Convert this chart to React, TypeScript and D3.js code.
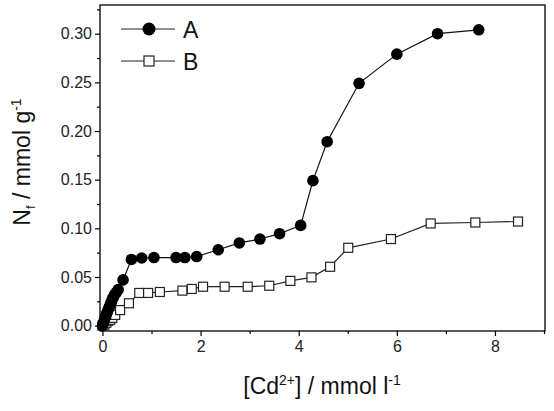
import * as d3 from 'd3';
import React, { useEffect, useRef } from 'react';

// Series A (filled circles): [Cd2+] in mmol/l, uptake in mmol/g
const concA = [0, 0.02, 0.04, 0.06, 0.08, 0.1, 0.12, 0.14, 0.16, 0.18, 0.2, 0.22, 0.25, 0.28, 0.32, 0.42, 0.59, 0.8, 1.05, 1.5, 1.68, 1.92, 2.36, 2.79, 3.21, 3.61, 4.04, 4.29, 4.58, 5.23, 6.0, 6.83, 7.67];
const uptakeA = [0, 0.003, 0.006, 0.009, 0.012, 0.014, 0.017, 0.019, 0.022, 0.024, 0.027, 0.029, 0.032, 0.034, 0.037, 0.047, 0.068, 0.0695, 0.07, 0.07, 0.07, 0.071, 0.078, 0.085, 0.089, 0.0945, 0.103, 0.149, 0.189, 0.249, 0.279, 0.3, 0.304];

// Series B (open squares)
const concB = [0, 0.04, 0.08, 0.12, 0.16, 0.2, 0.26, 0.36, 0.54, 0.75, 0.93, 1.17, 1.63, 1.82, 2.05, 2.49, 2.96, 3.4, 3.83, 4.26, 4.64, 5.01, 5.88, 6.69, 7.6, 8.47];
const uptakeB = [0, 0.001, 0.003, 0.005, 0.006, 0.008, 0.011, 0.016, 0.023, 0.0336, 0.0336, 0.0346, 0.036, 0.0377, 0.04, 0.04, 0.04, 0.041, 0.046, 0.0496, 0.0605, 0.08, 0.089, 0.105, 0.106, 0.107];

const xTicks = [0, 2, 4, 6, 8];
const yTicks = [0, 0.05, 0.1, 0.15, 0.2, 0.25, 0.3];
const legendLabels = ['A', 'B'];

const W = 554;
const H = 411;

const App: React.FC = () => {
  const ref = useRef<SVGSVGElement | null>(null);

  useEffect(() => {
    if (!ref.current) return;
    const svg = d3.select(ref.current);
    svg.selectAll('*').remove();

    const left = 100, right = 545, top = 5, bottom = 331;
    const x = d3.scaleLinear().domain([-0.05, 9.02]).range([left, right]);
    const y = d3.scaleLinear().domain([-0.0055, 0.3295]).range([bottom, top]);

    const font = 'Liberation Sans, Arial, sans-serif';

    // frame
    svg.append('rect')
      .attr('x', left).attr('y', top)
      .attr('width', right - left).attr('height', bottom - top)
      .attr('fill', 'none').attr('stroke', '#000').attr('stroke-width', 1.3);

    // bottom axis
    const xAxis = svg.append('g').attr('transform', `translate(0,${bottom})`);
    xAxis.call(d3.axisBottom(x).tickValues(xTicks).tickSize(5).tickPadding(5).tickFormat(d3.format('d')));
    xAxis.append('g').call(d3.axisBottom(x).tickValues([1, 3, 5, 7, 9]).tickSize(3).tickFormat(() => ''));
    xAxis.selectAll('.domain').remove();

    // left axis
    const yAxis = svg.append('g').attr('transform', `translate(${left},0)`);
    yAxis.call(d3.axisLeft(y).tickValues(yTicks).tickSize(5).tickPadding(3).tickFormat(d3.format('.2f')));
    yAxis.append('g').call(d3.axisLeft(y).tickValues([0.025, 0.075, 0.125, 0.175, 0.225, 0.275, 0.325]).tickSize(3).tickFormat(() => ''));
    yAxis.selectAll('.domain').remove();

    svg.selectAll('.tick text')
      .attr('font-family', font).attr('font-size', 16).attr('fill', '#222');
    svg.selectAll('.tick line').attr('stroke', '#000').attr('stroke-width', 1.2);

    const line = d3.line<[number, number]>().x((d) => x(d[0])).y((d) => y(d[1]));
    const ptsA = concA.map((c, i) => [c, uptakeA[i]] as [number, number]);
    const ptsB = concB.map((c, i) => [c, uptakeB[i]] as [number, number]);

    const plot = svg.append('g');
    plot.append('path').datum(ptsB).attr('d', line)
      .attr('fill', 'none').attr('stroke', '#222').attr('stroke-width', 1.2);
    plot.selectAll('rect.b').data(ptsB).enter().append('rect')
      .attr('class', 'b')
      .attr('x', (d) => x(d[0]) - 4.5).attr('y', (d) => y(d[1]) - 4.5)
      .attr('width', 9).attr('height', 9)
      .attr('fill', '#fff').attr('stroke', '#222').attr('stroke-width', 1.2);

    plot.append('path').datum(ptsA).attr('d', line)
      .attr('fill', 'none').attr('stroke', '#111').attr('stroke-width', 1.2);
    plot.selectAll('circle.a').data(ptsA).enter().append('circle')
      .attr('class', 'a')
      .attr('cx', (d) => x(d[0])).attr('cy', (d) => y(d[1]))
      .attr('r', 5.8).attr('fill', '#000');

    // legend
    const legend = svg.append('g');
    legendLabels.forEach((lab, i) => {
      const ly = 29 + i * 32;
      legend.append('line')
        .attr('x1', 121).attr('x2', 175).attr('y1', ly).attr('y2', ly)
        .attr('stroke', '#222').attr('stroke-width', 1.2);
      if (i === 0) {
        legend.append('circle').attr('cx', 149).attr('cy', ly).attr('r', 6.5).attr('fill', '#000');
      } else {
        legend.append('rect').attr('x', 144).attr('y', ly - 5).attr('width', 10).attr('height', 10)
          .attr('fill', '#fff').attr('stroke', '#222').attr('stroke-width', 1.2);
      }
      legend.append('text')
        .attr('x', 183).attr('y', ly + 8.5)
        .attr('font-family', font).attr('font-size', 23).attr('fill', '#111')
        .text(lab);
    });

    // x title
    const xt = svg.append('text')
      .attr('x', 322).attr('y', 394)
      .attr('text-anchor', 'middle')
      .attr('font-family', font).attr('font-size', 23).attr('fill', '#111');
    xt.append('tspan').text('[Cd');
    xt.append('tspan').attr('dy', -9).attr('font-size', 14).text('2+');
    xt.append('tspan').attr('dy', 9).text('] / mmol l');
    xt.append('tspan').attr('dy', -9).attr('font-size', 14).text('-1');

    // y title
    const yt = svg.append('text')
      .attr('transform', `translate(30,162) rotate(-90)`)
      .attr('text-anchor', 'middle')
      .attr('font-family', font).attr('font-size', 23).attr('fill', '#111');
    yt.append('tspan').text('N');
    yt.append('tspan').attr('dy', 5).attr('font-size', 13).text('f');
    yt.append('tspan').attr('dy', -5).text(' / mmol g');
    yt.append('tspan').attr('dy', -9).attr('font-size', 14).text('-1');
  }, []);

  return <svg ref={ref} width={W} height={H} style={{ display: 'block', position: 'absolute', left: 0, top: 0 }} />;
};

export default App;
